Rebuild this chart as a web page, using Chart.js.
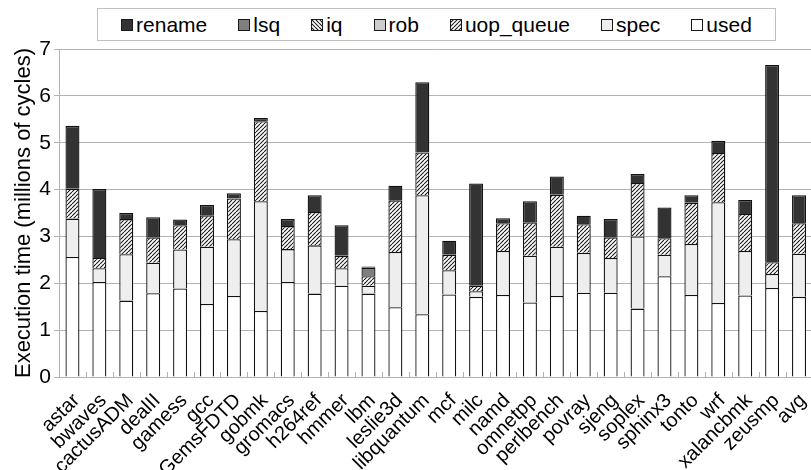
<!DOCTYPE html>
<html>
<head>
<meta charset="utf-8">
<script src="https://cdn.jsdelivr.net/npm/chart.js@4/dist/chart.umd.min.js"></script>
<style>
  html, body { margin: 0; padding: 0; background: #fff; overflow: hidden; }
  #wrap { position: relative; width: 820px; height: 470px; }
  #legend {
    position: absolute; left: 97px; top: 8px; width: 677px; height: 31px;
    border: 1px solid #c0c0c0; background: #fff;
    display: flex; justify-content: center; align-items: center; gap: 31px;
    font: 21px "Liberation Sans", Arial, sans-serif; color: #000;
  }
  #legend .item { display: flex; align-items: center; }
  #legend canvas { margin-right: 3px; }
</style>
</head>
<body>
<div id="wrap">
  <canvas id="execChart" width="820" height="470"></canvas>
  <div id="legend"></div>
</div>
<script>
// benchmarks
var categories = ['astar', 'bwaves', 'cactusADM', 'dealII', 'gamess', 'gcc', 'GemsFDTD', 'gobmk',
  'gromacs', 'h264ref', 'hmmer', 'lbm', 'leslie3d', 'libquantum', 'mcf', 'milc', 'namd',
  'omnetpp', 'perlbench', 'povray', 'sjeng', 'soplex', 'sphinx3', 'tonto', 'wrf',
  'xalancbmk', 'zeusmp', 'avg'];

// millions of cycles, per component
var used = [2.56, 2.03, 1.63, 1.79, 1.89, 1.56, 1.73, 1.41, 2.03, 1.78, 1.95, 1.78, 1.49, 1.34,
  1.76, 1.71, 1.75, 1.59, 1.73, 1.80, 1.80, 1.46, 2.15, 1.75, 1.58, 1.74, 1.90, 1.71];
var spec = [0.82, 0.29, 0.99, 0.65, 0.83, 1.22, 1.21, 2.34, 0.70, 1.03, 0.37, 0.17, 1.18, 2.54,
  0.52, 0.12, 0.94, 1.00, 1.05, 0.85, 0.74, 1.54, 0.46, 1.09, 2.15, 0.95, 0.30, 0.92];
var uopQueue = [0.64, 0.22, 0.75, 0.54, 0.52, 0.67, 0.87, 1.71, 0.49, 0.71, 0.27, 0.20, 1.10, 0.91,
  0.33, 0.12, 0.59, 0.71, 1.11, 0.61, 0.44, 1.14, 0.35, 0.88, 1.05, 0.79, 0.25, 0.65];
var rob = [0, 0, 0, 0, 0, 0, 0, 0, 0, 0, 0, 0, 0, 0, 0, 0, 0, 0, 0, 0, 0, 0, 0, 0, 0, 0, 0, 0];
var iq = [0, 0, 0, 0, 0, 0, 0, 0, 0, 0, 0, 0, 0, 0, 0, 0, 0, 0, 0, 0, 0, 0, 0, 0, 0, 0, 0, 0];
var lsq = [0, 0, 0, 0, 0, 0, 0, 0, 0, 0, 0, 0.18, 0, 0, 0, 0, 0, 0, 0, 0, 0, 0, 0, 0, 0, 0, 0, 0];
var rename = [1.34, 1.47, 0.13, 0.43, 0.12, 0.22, 0.11, 0.07, 0.15, 0.36, 0.65, 0.03, 0.31, 1.50,
  0.30, 2.18, 0.11, 0.45, 0.39, 0.18, 0.39, 0.19, 0.66, 0.16, 0.26, 0.30, 4.21, 0.60];

var yTicks = [0, 1, 2, 3, 4, 5, 6, 7];

function hatch(forward) {
  var size = 4;
  var c = document.createElement('canvas');
  c.width = size;
  c.height = size;
  var g = c.getContext('2d');
  g.fillStyle = '#fff';
  g.fillRect(0, 0, size, size);
  g.strokeStyle = '#1a1a1a';
  g.lineWidth = 1.1;
  g.beginPath();
  for (var k = -1; k <= 1; k++) {
    if (forward) {
      g.moveTo(k * size, size);
      g.lineTo(k * size + size, 0);
    } else {
      g.moveTo(k * size, 0);
      g.lineTo(k * size + size, size);
    }
  }
  g.stroke();
  return g.createPattern(c, 'repeat');
}

var ctx = document.getElementById('execChart');
var slashFill = hatch(true);
var backFill = hatch(false);

// stacked bottom to top
var series = [
  {label: 'used', data: used, fill: '#ffffff'},
  {label: 'spec', data: spec, fill: '#eeeeee'},
  {label: 'uop_queue', data: uopQueue, fill: slashFill},
  {label: 'rob', data: rob, fill: '#cccccc'},
  {label: 'iq', data: iq, fill: backFill},
  {label: 'lsq', data: lsq, fill: '#7f7f7f'},
  {label: 'rename', data: rename, fill: '#333333'}
];

Chart.defaults.font.family = '"Liberation Sans", Arial, sans-serif';
Chart.defaults.color = '#000';

// short grey marks pointing up from the baseline between categories
var innerTicks = {
  id: 'innerTicks',
  afterDatasetsDraw: function (chart) {
    var x = chart.scales.x, area = chart.chartArea, c = chart.ctx;
    c.save();
    c.strokeStyle = '#b3b3b3';
    c.lineWidth = 1;
    c.beginPath();
    for (var i = 0; i <= categories.length; i++) {
      var px = Math.round(x.getPixelForValue(i - 0.5)) + 0.5;
      c.moveTo(px, area.bottom);
      c.lineTo(px, area.bottom - 5);
    }
    c.stroke();
    c.restore();
  }
};

var myChart = new Chart(ctx, {
  type: 'bar',
  data: {
    labels: categories,
    datasets: series.map(function (s) {
      return {
        label: s.label,
        data: s.data,
        backgroundColor: s.fill,
        borderColor: '#111111',
        borderWidth: 1.3,
        barPercentage: 0.52,
        categoryPercentage: 1,
        stack: 'all'
      };
    })
  },
  options: {
    responsive: false,
    animation: false,
    layout: {padding: {top: 49, right: 0, left: 0, bottom: 0}},
    scales: {
      x: {
        stacked: true,
        grid: {display: false},
        border: {display: true, color: '#b3b3b3'},
        ticks: {
          autoSkip: false,
          maxRotation: 45,
          minRotation: 45,
          padding: 4,
          labelOffset: 4,
          font: {size: 20}
        },
        afterFit: function (scale) { scale.height = 93; }
      },
      y: {
        stacked: true,
        min: 0,
        max: 7,
        afterBuildTicks: function (scale) {
          scale.ticks = yTicks.map(function (v) { return {value: v}; });
        },
        grid: {color: '#b3b3b3', tickLength: 5},
        border: {color: '#b3b3b3'},
        ticks: {padding: 3, font: {size: 21}},
        title: {
          display: true,
          text: 'Execution time (millions of cycles)',
          font: {size: 22},
          padding: {top: 11, bottom: 2}
        },
        afterFit: function (scale) { scale.width = 59; }
      }
    },
    plugins: {
      legend: {display: false},
      tooltip: {enabled: false}
    }
  },
  plugins: [innerTicks]
});

// legend, same order as the reference (top of stack first)
var legendEl = document.getElementById('legend');
series.slice().reverse().forEach(function (s) {
  var item = document.createElement('span');
  item.className = 'item';
  var sw = document.createElement('canvas');
  sw.width = 12;
  sw.height = 12;
  var g = sw.getContext('2d');
  g.fillStyle = s.fill;
  g.fillRect(0, 0, 12, 12);
  g.strokeStyle = '#1a1a1a';
  g.lineWidth = 1;
  g.strokeRect(0.5, 0.5, 11, 11);
  item.appendChild(sw);
  item.appendChild(document.createTextNode(s.label));
  legendEl.appendChild(item);
});
</script>
</body>
</html>
